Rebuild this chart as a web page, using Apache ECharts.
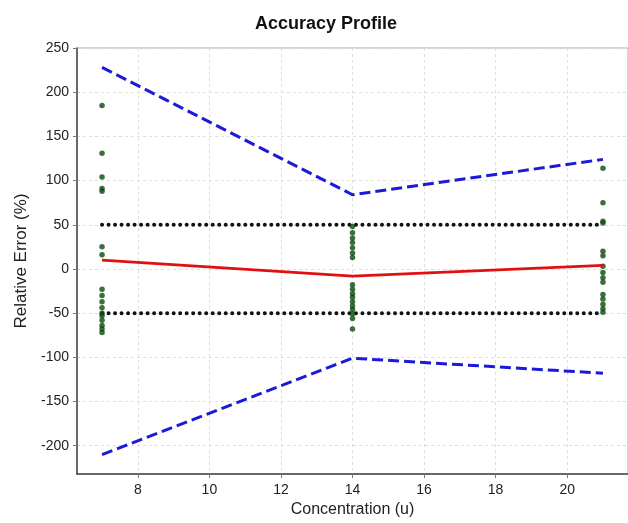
<!DOCTYPE html>
<html><head><meta charset="utf-8">
<script src="https://cdn.jsdelivr.net/npm/echarts@6/dist/echarts.min.js"></script>
<style>html,body{margin:0;padding:0;background:#fff}#c{width:628px;height:523px}</style>
</head><body><div id="c"></div>
<script>
const concentrations = [7, 14, 21];
const pointsAt7 = [185, 131, 104, 91, 88, 25, 16, -23, -30, -37, -44, -50, -53, -58, -64, -68, -72];
const pointsAt14 = [48, 41, 35, 30, 24, 18, 13, -18, -23, -28, -32, -37, -42, -46, -51, -56, -68];
const pointsAt21 = [114, 75, 54, 52, 20, 15, 3, -4, -10, -15, -29, -34, -40, -45, -49];
const upperTolerance = [228, 84, 124];
const lowerTolerance = [-210, -101, -118];
const meanBias = [10, -8, 4];
const acceptanceLimits = [50, -50];

const scatterData = [];
[pointsAt7, pointsAt14, pointsAt21].forEach((arr, i) => arr.forEach(v => scatterData.push([concentrations[i], v])));
const pair = arr => concentrations.map((c, i) => [c, arr[i]]);
const limitLine = v => [[concentrations[0], v], [concentrations[2], v]];

const chart = echarts.init(document.getElementById('c'));
const font = 'Liberation Sans, Arial, sans-serif';
chart.setOption({
  animation: false,
  title: {text: 'Accuracy Profile', left: 321, top: 10, textAlign: 'center',
    textStyle: {fontFamily: font, fontSize: 18, fontWeight: 'bold', color: '#111'}},
  grid: {left: 77, right: 0, top: 48, bottom: 49, show: true, borderColor: '#aaa', borderWidth: 1},
  xAxis: {type: 'value', min: 6.3, max: 21.7, splitNumber: 8,
    name: 'Concentration (u)', nameLocation: 'middle', nameGap: 28,
    nameTextStyle: {fontFamily: font, fontSize: 16, color: '#222'},
    axisLine: {onZero: false, lineStyle: {color: '#444', width: 1.5}},
    axisTick: {show: true, length: 4, lineStyle: {color: '#777'}},
    axisLabel: {showMinLabel: false, showMaxLabel: false, fontFamily: font, fontSize: 14, color: '#222', margin: 9},
    splitLine: {show: true, lineStyle: {color: '#ddd', type: [3, 3]}}},
  yAxis: {type: 'value', min: -232, max: 250, splitNumber: 10,
    name: 'Relative Error (%)', nameLocation: 'middle', nameGap: 46,
    nameTextStyle: {fontFamily: font, fontSize: 17, color: '#222'},
    axisLine: {show: true, onZero: false, lineStyle: {color: '#444', width: 1.5}},
    axisTick: {show: true, length: 4, lineStyle: {color: '#777'}},
    axisLabel: {showMinLabel: false, fontFamily: font, fontSize: 14, color: '#222', margin: 8},
    splitLine: {show: true, lineStyle: {color: '#ddd', type: [3, 3]}}},
  series: [
    {type: 'line', data: pair(upperTolerance), symbol: 'none', lineStyle: {color: '#1a1ad8', width: 3, type: [11, 5]}, z: 3},
    {type: 'line', data: pair(lowerTolerance), symbol: 'none', lineStyle: {color: '#1a1ad8', width: 3, type: [11, 5]}, z: 3},
    {type: 'line', data: limitLine(acceptanceLimits[0]), symbol: 'none', lineStyle: {color: '#111', width: 4, type: [0.01, 6.5], cap: 'round'}, z: 4},
    {type: 'line', data: limitLine(acceptanceLimits[1]), symbol: 'none', lineStyle: {color: '#111', width: 4, type: [0.01, 6.5], cap: 'round'}, z: 4},
    {type: 'scatter', data: scatterData, symbol: 'circle', symbolSize: 5.5, itemStyle: {color: '#0b4a0e'}, z: 5},
    {type: 'line', data: pair(meanBias), symbol: 'none', lineStyle: {color: '#e01010', width: 2.8}, z: 6}
  ]
});
</script></body></html>
